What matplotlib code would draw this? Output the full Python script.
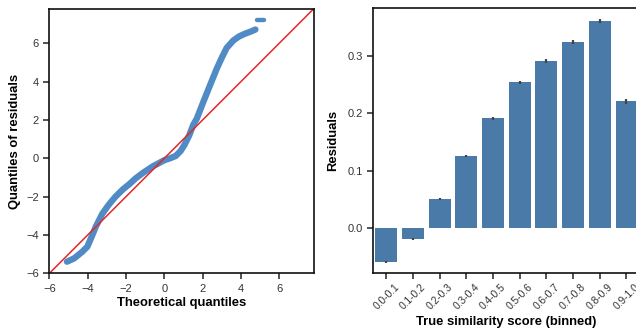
import matplotlib
matplotlib.use("Agg")
import matplotlib.pyplot as plt
import numpy as np

plt.rcParams['font.family'] = ['Liberation Sans', 'DejaVu Sans']

# QQ plot data
theoretical_q = [-5.08, -4.71, -4.28, -4.02, -3.76, -3.58, -3.23, -2.90, -2.55, -2.14,
                 -1.84, -1.50, -1.10, -0.60, -0.28, 0.00, 0.30, 0.59, 0.85, 1.05,
                 1.30, 1.51, 1.69, 2.03, 2.38, 2.73, 3.00, 3.25, 3.60, 3.90,
                 4.20, 4.50, 4.75]
residual_q = [-5.39, -5.22, -4.87, -4.61, -4.01, -3.57, -2.88, -2.42, -2.00, -1.60,
              -1.36, -1.05, -0.75, -0.42, -0.25, -0.10, 0.00, 0.12, 0.38, 0.70,
              1.20, 1.75, 2.06, 2.93, 3.80, 4.66, 5.25, 5.75, 6.14, 6.35,
              6.49, 6.60, 6.71]
outlier_x = [4.82, 4.95, 5.08, 5.18]
outlier_y = [7.23, 7.23, 7.23, 7.23]

# Bar chart data
bins = ['0.0-0.1', '0.1-0.2', '0.2-0.3', '0.3-0.4', '0.4-0.5',
        '0.5-0.6', '0.6-0.7', '0.7-0.8', '0.8-0.9', '0.9-1.0']
residual_means = [-0.059, -0.019, 0.051, 0.125, 0.191, 0.254, 0.291, 0.324, 0.361, 0.221]
residual_err = [0.002, 0.002, 0.002, 0.002, 0.002, 0.003, 0.003, 0.003, 0.003, 0.004]

fig = plt.figure(figsize=(6.36, 3.33), dpi=100)
ax1 = fig.add_axes([0.0776, 0.179, 0.4165, 0.794])
ax2 = fig.add_axes([0.5865, 0.179, 0.4195, 0.796])

tick_color = '#333333'
for ax in (ax1, ax2):
    for s in ax.spines.values():
        s.set_linewidth(1.2)
        s.set_color('#111111')
    ax.tick_params(axis='both', direction='out', length=4, width=1.1,
                   labelsize=8, labelcolor=tick_color, color='#222222')

# QQ plot
qc = '#3d7fbf'
ax1.plot(theoretical_q, residual_q, '-', color=qc, lw=4.6, alpha=0.9,
         solid_capstyle='round', solid_joinstyle='round')
ax1.plot(outlier_x, outlier_y, '-', color=qc, lw=3.2, alpha=0.9, solid_capstyle='round')
ax1.plot([-6, 7.8], [-6, 7.8], color='#e0282a', lw=1.1)
ax1.set_xlim(-6, 7.82)
ax1.set_ylim(-6, 7.78)
ax1.set_xticks([-6, -4, -2, 0, 2, 4, 6])
ax1.set_yticks([-6, -4, -2, 0, 2, 4, 6])
ax1.set_xlabel('Theoretical quantiles', fontsize=9.4, fontweight='bold', labelpad=2)
ax1.set_ylabel('Quantiles of residuals', fontsize=9.4, fontweight='bold', labelpad=4)

# Bar plot
x = np.arange(len(bins))
ax2.bar(x, residual_means, width=0.82, color='#4a7aa8')
ax2.errorbar(x, residual_means, yerr=residual_err, fmt='none', ecolor='#444444',
             elinewidth=1.6, capsize=0)
ax2.set_xlim(-0.5, 9.5)
ax2.set_ylim(-0.079, 0.383)
ax2.set_yticks([0.0, 0.1, 0.2, 0.3])
ax2.set_yticklabels(['0.0', '0.1', '0.2', '0.3'])
ax2.set_xticks(x)
ax2.set_xticklabels(bins, rotation=45, fontsize=7.4, ha='center')
ax2.tick_params(axis='x', pad=2)
ax2.set_xlabel('True similarity score (binned)', fontsize=9.4, fontweight='bold', labelpad=3)
ax2.set_ylabel('Residuals', fontsize=9.4, fontweight='bold', labelpad=6)

fig.savefig('out.png', dpi=100)
